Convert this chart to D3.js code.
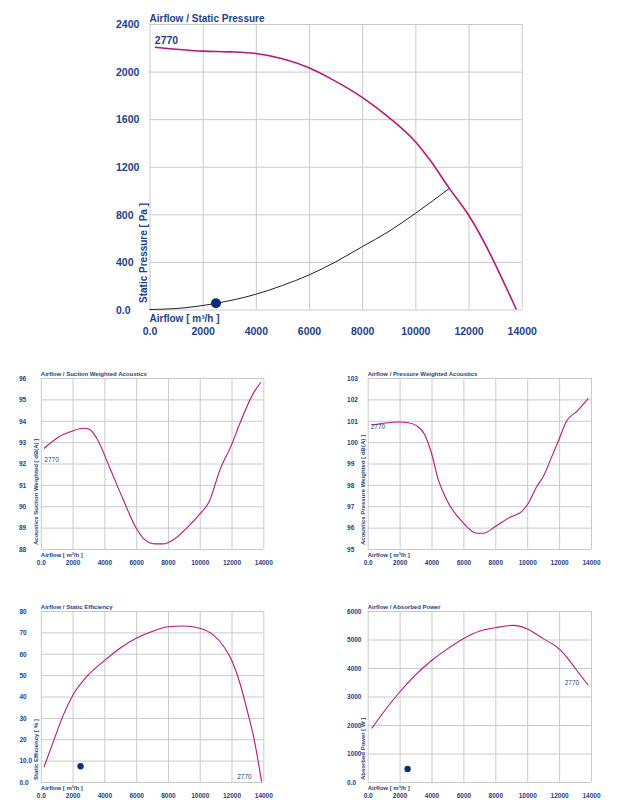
<!DOCTYPE html>
<html><head><meta charset="utf-8">
<script src="https://cdn.jsdelivr.net/npm/d3@7"></script>
<style>
html,body{margin:0;padding:0;background:#fff;}
svg{display:block;font-family:"Liberation Sans",Arial,Helvetica,sans-serif;}
</style></head>
<body>
<svg id="c" width="624" height="809"></svg>
<script>
// ---------- data ----------
const flowTicks = [0, 2000, 4000, 6000, 8000, 10000, 12000, 14000];
const curveLabel = "2770";

// Airflow / Static Pressure
const pressureTicks = [0, 400, 800, 1200, 1600, 2000, 2400];
const pressureFlow = [200, 2000, 3000, 4000, 5000, 6000, 6800, 8000, 9000, 10000, 10550, 11280, 12000, 13800];
const pressureVal  = [2205, 2172, 2166, 2152, 2108, 2032, 1943, 1783, 1615, 1410, 1256, 1018, 794, 0];
const systemFlow = [0, 1000, 2500, 4000, 5000, 6000, 7000, 8000, 9000, 10000, 11280];
const systemVal  = [0, 8, 52, 128, 202, 290, 400, 528, 656, 808, 1018];
const opFlow = 2500;
const opPressure = 52;

// Airflow / Suction Weighted Acoustics
const suctionTicks = [88, 89, 90, 91, 92, 93, 94, 95, 96];
const suctionFlow = [200, 1100, 2000, 2670, 3050, 3520, 4350, 5190, 6000, 6450, 7180, 7700, 8330, 9180, 10000, 10600, 11270, 12000, 12530, 13370, 13850];
const suctionVal  = [92.7, 93.23, 93.52, 93.65, 93.6, 93.18, 91.78, 90.3, 88.98, 88.5, 88.24, 88.24, 88.43, 88.98, 89.63, 90.22, 91.7, 92.87, 93.88, 95.28, 95.8];

// Airflow / Pressure Weighted Acoustics
const pressAcTicks = [95, 96, 97, 98, 99, 100, 101, 102, 103];
const pressAcFlow = [250, 980, 1980, 2550, 3070, 3550, 3970, 4430, 4950, 6000, 6830, 7250, 8000, 8920, 9650, 10070, 10600, 11010, 11540, 11980, 12480, 13100, 13830];
const pressAcVal  = [100.8, 100.88, 100.94, 100.91, 100.76, 100.38, 99.56, 98.23, 97.3, 96.21, 95.74, 95.74, 96.05, 96.49, 96.75, 97.14, 97.92, 98.39, 99.32, 100.1, 101.0, 101.43, 102.05];

// Airflow / Static Efficiency
const effTicks = [0, 10, 20, 30, 40, 50, 60, 70, 80];
const effFlow = [200, 790, 1420, 2000, 2890, 4000, 4980, 6000, 7080, 8020, 8960, 10000, 10850, 11520, 12000, 12530, 12950, 13410, 13890];
const effVal  = [7, 18.9, 31.4, 40.4, 49.3, 56.8, 62.6, 67.2, 70.65, 72.66, 73, 71.9, 68.8, 63.3, 57.1, 46.2, 34.5, 20.5, 0.2];
const opEff = 7.4;

// Airflow / Absorbed Power
const powerTicks = [0, 1000, 2000, 3000, 4000, 5000, 6000];
const powerFlow = [250, 980, 1980, 2970, 3970, 4950, 6000, 7040, 8000, 9130, 9970, 11010, 11980, 12480, 13100, 13830];
const powerVal  = [1880, 2440, 3140, 3745, 4245, 4655, 5030, 5295, 5415, 5495, 5380, 5030, 4680, 4385, 3920, 3395];
const opPower = 455;

// ---------- drawing ----------
const TXT = "#1d3f8c", MAG = "#b8177a", GRID = "#cacaca", DOT = "#0c2e7c";
const svg = d3.select("#c");

function fmtY(v){ return v === 0 ? "0.0" : (v === 10 && this && this.tenDec ? "10.0" : String(v)); }

function chart(o){
  const g = svg.append("g");
  const x = d3.scaleLinear().domain([0, 14000]).range([o.x0, o.x1]);
  const y = d3.scaleLinear().domain([o.yTicks[0], o.yTicks[o.yTicks.length-1]]).range([o.y1, o.y0]);
  // grid
  g.append("g").attr("transform", `translate(0,${o.y1})`)
    .call(d3.axisBottom(x).tickValues(flowTicks).tickSize(-(o.y1-o.y0)).tickFormat(""))
    .call(s => { s.select(".domain").remove(); s.selectAll("line").attr("stroke", GRID); });
  g.append("g").attr("transform", `translate(${o.x0},0)`)
    .call(d3.axisLeft(y).tickValues(o.yTicks).tickSize(-(o.x1-o.x0)).tickFormat(""))
    .call(s => { s.select(".domain").remove(); s.selectAll("line").attr("stroke", GRID); });
  // x tick labels
  g.append("g").attr("transform", `translate(0,${o.y1})`)
    .call(d3.axisBottom(x).tickValues(flowTicks).tickSize(0).tickPadding(0)
      .tickFormat(v => v === 0 ? "0.0" : String(v)))
    .call(s => { s.select(".domain").remove();
      s.selectAll("text").attr("y", o.xLabDy).attr("dy", 0).attr("fill", TXT)
       .attr("font-size", o.tickFs).attr("font-weight", "bold").attr("font-family", null); });
  // y tick labels (left aligned)
  g.append("g").attr("transform", `translate(${o.x0},0)`)
    .call(d3.axisLeft(y).tickValues(o.yTicks).tickSize(0)
      .tickFormat(v => v === 0 ? "0.0" : (v === 10 && o.tenDec ? "10.0" : String(v))))
    .call(s => { s.select(".domain").remove();
      s.selectAll("text").attr("x", o.yLabX - o.x0).attr("text-anchor", "start").attr("dy", "0.35em")
       .attr("fill", TXT).attr("font-size", o.tickFs).attr("font-weight", "bold").attr("font-family", null); });
  // titles
  g.append("text").attr("x", o.x0).attr("y", o.y0 - 2).text(o.title)
    .attr("fill", TXT).attr("font-size", o.titleFs).attr("font-weight", "bold");
  g.append("text").attr("x", o.x0).attr("y", o.y1 + o.airDy).text("Airflow [ m³/h ]")
    .attr("fill", TXT).attr("font-size", o.titleFs).attr("font-weight", "bold");
  g.append("text").attr("transform", `translate(${o.yTitleX},${o.y1 - o.yTitleOff}) rotate(-90)`)
    .text(o.yTitle).attr("fill", TXT).attr("font-size", o.titleFs).attr("font-weight", "bold");
  // curves
  const line = d3.line().x(d => x(d[0])).y(d => y(d[1])).curve(d3.curveMonotoneX);
  (o.extra || []).forEach(e => {
    g.append("path").attr("d", line(d3.zip(e.xs, e.ys))).attr("fill", "none")
      .attr("stroke", e.color).attr("stroke-width", e.w);
  });
  g.append("path").attr("d", line(d3.zip(o.xs, o.ys))).attr("fill", "none")
    .attr("stroke", MAG).attr("stroke-width", o.lw);
  if (o.op) g.append("circle").attr("cx", x(o.op[0])).attr("cy", y(o.op[1])).attr("r", o.dotR).attr("fill", DOT);
  // curve label
  g.append("text").attr("x", x(o.lab[0])).attr("y", y(o.lab[1])).text(curveLabel)
    .attr("fill", TXT).attr("font-size", o.labFs).attr("font-weight", o.labW || "normal");
  return {x, y};
}

chart({x0:149.5, x1:521.7, y0:24, y1:309.5, yTicks:pressureTicks, tickFs:10.5, titleFs:10, labFs:10.5, labW:"bold",
  xLabDy:25.5, yLabX:116, airDy:12.5, yTitleX:146.5, yTitleOff:6.5, lw:1.6, dotR:5,
  title:"Airflow / Static Pressure", yTitle:"Static Pressure [ Pa ]",
  xs:pressureFlow, ys:pressureVal, op:[opFlow, opPressure], lab:[200, 2230],
  extra:[{xs:systemFlow, ys:systemVal, color:"#222", w:1}]});

chart({x0:40.8, x1:263.3, y0:378, y1:549, yTicks:suctionTicks, tickFs:6.5, titleFs:6, labFs:6.5,
  xLabDy:16, yLabX:19, airDy:8, yTitleX:37.5, yTitleOff:4, lw:1.1,
  title:"Airflow / Suction Weighted Acoustics", yTitle:"Acoustics Suction Weighted [ dB(A) ]",
  xs:suctionFlow, ys:suctionVal, lab:[220, 92.05]});

chart({x0:367.7, x1:591, y0:378, y1:549, yTicks:pressAcTicks, tickFs:6.5, titleFs:6, labFs:6.5,
  xLabDy:16, yLabX:347, airDy:8, yTitleX:365, yTitleOff:4, lw:1.1,
  title:"Airflow / Pressure Weighted Acoustics", yTitle:"Acoustics Pressure Weighted [ dB(A) ]",
  xs:pressAcFlow, ys:pressAcVal, lab:[190, 100.6]});

chart({x0:40.8, x1:263.3, y0:611, y1:782, yTicks:effTicks, tickFs:6.5, titleFs:6, labFs:6.5, tenDec:true,
  xLabDy:16, yLabX:19.5, airDy:8, yTitleX:37.5, yTitleOff:2, lw:1.1, dotR:3.2,
  title:"Airflow / Static Efficiency", yTitle:"Static Efficiency [ % ]",
  xs:effFlow, ys:effVal, op:[opFlow, opEff], lab:[12360, 1.4]});

chart({x0:367.7, x1:591, y0:611, y1:782, yTicks:powerTicks, tickFs:6.5, titleFs:6, labFs:6.5,
  xLabDy:16, yLabX:347, airDy:8, yTitleX:365, yTitleOff:2, lw:1.1, dotR:3.2,
  title:"Airflow / Absorbed Power", yTitle:"Absorbed Power [ W ]",
  xs:powerFlow, ys:powerVal, op:[opFlow, opPower], lab:[12350, 3400]});
</script>
</body></html>
